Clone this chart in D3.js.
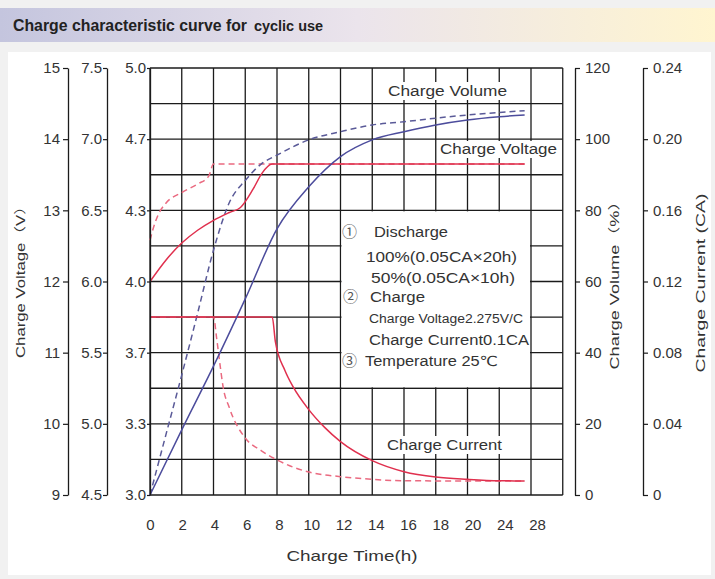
<!DOCTYPE html>
<html>
<head>
<meta charset="utf-8">
<script src="https://cdn.jsdelivr.net/npm/d3@7"></script>
<style>
body { margin: 0; background: #f1f1f1; }
svg text { font-family: "Liberation Sans", Arial, "DejaVu Sans", "Noto Sans CJK SC", sans-serif; fill: #333; }
</style>
</head>
<body>
<div id="chart"></div>
<script>
// charge time (h) of every grid column, the last one has no label
var gridHours = [0, 2, 4, 6, 8, 10, 12, 14, 16, 18, 20, 24, 28, 32];
var timeLabels = [0, 2, 4, 6, 8, 10, 12, 14, 16, 18, 20, 24, 28];
var voltTicks = [9, 10, 11, 12, 13, 14, 15];
var halfVoltTicks = [4.5, 5.0, 5.5, 6.0, 6.5, 7.0, 7.5];
var cellVoltTicks = [3, 10 / 3, 11 / 3, 4, 13 / 3, 14 / 3, 5];
var volumeTicks = [0, 20, 40, 60, 80, 100, 120];
var currentTicks = [0, 0.04, 0.08, 0.12, 0.16, 0.20, 0.24];

// [hours, value]  solid = after 100% discharge, dashed = after 50% discharge
var voltFull = [[0, 12.0], [1, 12.3], [2, 12.54], [3, 12.72], [4, 12.86], [5, 12.97], [5.7, 13.04],
                [6.5, 13.3], [7.05, 13.52], [7.7, 13.65], [27.2, 13.65]];
var voltHalf = [[0, 12.58], [0.25, 12.78], [0.5, 12.93], [1, 13.1], [2, 13.25], [3, 13.37],
                [3.7, 13.48], [4, 13.65], [27.2, 13.65]];
var volumeFull = [[0, 0], [2, 18.3], [4, 36.2], [6, 55.1], [8, 74.8], [10, 86.6], [12, 95.1],
                  [14, 99.8], [16, 102.1], [18, 104.0], [20, 105.4], [24, 106.3], [27.2, 106.8]];
var volumeHalf = [[0, 0], [1, 16.9], [2, 33.7], [3, 51.1], [4, 68.8], [5, 82.2], [6, 88.4], [7, 93.0],
                  [8, 95.5], [10, 99.8], [12, 102.1], [14, 104], [16, 104.9], [18, 105.9], [20, 106.8],
                  [24, 107.5], [27.2, 108]];
var currentFull = [[0, 0.1], [7.7, 0.1], [7.9, 0.086], [8.5, 0.07], [9, 0.061], [10, 0.048], [11, 0.038],
                   [12, 0.030], [14, 0.0193], [16, 0.0131], [18, 0.0101], [20, 0.0088], [24, 0.008], [27.2, 0.0079]];
var currentHalf = [[0, 0.1], [4, 0.1], [4.2, 0.088], [4.4, 0.074], [4.6, 0.061], [5, 0.049], [6, 0.032],
                   [7, 0.025], [8, 0.0197], [10, 0.0129], [12, 0.0103], [14, 0.0088], [16, 0.008],
                   [20, 0.0079], [27.2, 0.0079]];

var W = 715, H = 579;
var svg = d3.select("#chart").append("svg").attr("width", W).attr("height", H);

// title band
var grad = svg.append("defs").append("linearGradient").attr("id", "band");
grad.append("stop").attr("offset", "0%").attr("stop-color", "#c4c5de");
grad.append("stop").attr("offset", "50%").attr("stop-color", "#ebe4ec");
grad.append("stop").attr("offset", "100%").attr("stop-color", "#fff5d0");
svg.append("rect").attr("x", 0).attr("y", 8).attr("width", W).attr("height", 34).attr("fill", "url(#band)");
svg.append("rect").attr("x", 8).attr("y", 52).attr("width", 703).attr("height", 523).attr("fill", "#fff");

svg.append("text").attr("x", 13).attr("y", 31).text("Charge characteristic curve for")
    .attr("textLength", 234).attr("lengthAdjust", "spacingAndGlyphs")
    .style("font-size", "16px").style("font-weight", "bold").style("fill", "#222");
svg.append("text").attr("x", 254).attr("y", 31).text("cyclic use")
    .attr("textLength", 69).attr("lengthAdjust", "spacingAndGlyphs")
    .style("font-size", "14px").style("font-weight", "bold").style("fill", "#222");

// scales, time axis is not linear past 20h
var x = d3.scaleLinear().domain([0, 20, 32]).range([150, 467.5, 562.75]);
var yVol = d3.scaleLinear().domain([0, 120]).range([495, 68]);
var yV = d3.scaleLinear().domain([9, 15]).range([495, 68]);
var yHalf = d3.scaleLinear().domain([4.5, 7.5]).range([495, 68]);
var yCell = d3.scaleLinear().domain([3, 5]).range([495, 68]);
var yCur = d3.scaleLinear().domain([0, 0.24]).range([495, 68]);

// grid
var grid = svg.append("g").attr("stroke", "#1b1b1b").attr("stroke-width", 1.3);
grid.selectAll(".v").data(gridHours).join("line").attr("class", "v")
    .attr("x1", d => x(d)).attr("x2", d => x(d))
    .attr("y1", yVol(0)).attr("y2", yVol(120));
grid.selectAll(".h").data(d3.range(0, 121, 10)).join("line").attr("class", "h")
    .attr("x1", x(0)).attr("x2", x(32))
    .attr("y1", d => yVol(d)).attr("y2", d => yVol(d));

// note box covers the grid cells
svg.append("rect")
    .attr("x", x(12) + 1).attr("y", yVol(80) + 1)
    .attr("width", x(28) - x(12) - 2).attr("height", yVol(30) - yVol(80) - 2)
    .attr("fill", "#fff");

// white boxes behind the curve names
var nameBoxes = [[386, 82, 123, 18], [438, 141, 122, 17], [385, 436, 119, 18]];
svg.selectAll(".nb").data(nameBoxes).join("rect").attr("class", "nb")
    .attr("x", d => d[0]).attr("y", d => d[1]).attr("width", d => d[2]).attr("height", d => d[3])
    .attr("fill", "#fff");

// curves
function drawCurve(data, yScale, color, dashed) {
    var line = d3.line()
        .x(d => x(d[0]))
        .y(d => yScale(d[1]))
        .curve(d3.curveMonotoneX);
    svg.append("path")
        .datum(data)
        .attr("d", line)
        .attr("fill", "none")
        .attr("stroke", color)
        .attr("stroke-width", 1.5)
        .attr("stroke-dasharray", dashed ? "6,4" : null);
}
drawCurve(voltHalf, yV, "#ea6a80", true);
drawCurve(currentHalf, yCur, "#ea6a80", true);
drawCurve(volumeHalf, yVol, "#5a5a98", true);
drawCurve(voltFull, yV, "#e0304e", false);
drawCurve(currentFull, yCur, "#e0304e", false);
drawCurve(volumeFull, yVol, "#4c4c9c", false);

// axes
function styleAxis(g) {
    g.select(".domain").attr("stroke", "#1b1b1b").attr("stroke-width", 1.3);
    g.selectAll(".tick line").attr("stroke", "#1b1b1b").attr("stroke-width", 1.2);
    g.selectAll(".tick text").style("font-size", "15px").style("fill", "#333")
        .style("font-family", "'Liberation Sans', Arial, sans-serif");
}

svg.append("g").attr("transform", "translate(68,0)")
    .call(d3.axisLeft(yV).tickValues(voltTicks).tickSize(5).tickSizeOuter(0).tickPadding(3)
        .tickFormat(d3.format("d")))
    .call(styleAxis);
svg.append("g").attr("transform", "translate(107,0)")
    .call(d3.axisLeft(yHalf).tickValues(halfVoltTicks).tickSize(4).tickSizeOuter(0).tickPadding(1)
        .tickFormat(d3.format(".1f")))
    .call(styleAxis);
svg.append("g").attr("transform", "translate(150,0)")
    .call(d3.axisLeft(yCell).tickValues(cellVoltTicks).tickSize(3).tickSizeOuter(0).tickPadding(1)
        .tickFormat(d3.format(".1f")))
    .call(styleAxis);
svg.append("g").attr("transform", "translate(575,0)")
    .call(d3.axisRight(yVol).tickValues(volumeTicks).tickSize(5).tickSizeOuter(0).tickPadding(5)
        .tickFormat(d3.format("d")))
    .call(styleAxis);
svg.append("g").attr("transform", "translate(643,0)")
    .call(d3.axisRight(yCur).tickValues(currentTicks).tickSize(5).tickSizeOuter(0).tickPadding(5)
        .tickFormat(d => d === 0 ? "0" : d3.format(".2f")(d)))
    .call(styleAxis);

var xAxis = svg.append("g").attr("transform", "translate(0,495)")
    .call(d3.axisBottom(x).tickValues(timeLabels).tickSize(0).tickPadding(24).tickFormat(d3.format("d")))
    .call(styleAxis);
xAxis.select(".domain").remove();
xAxis.selectAll(".tick text").attr("x", (d, i) => i * 0.5);

// axis titles
function vTitle(px, py, label, len) {
    svg.append("text")
        .attr("transform", "translate(" + px + "," + py + ") rotate(-90)")
        .attr("text-anchor", "middle")
        .attr("textLength", len).attr("lengthAdjust", "spacingAndGlyphs")
        .style("font-size", "12px")
        .text(label);
}
vTitle(25, 278, "Charge Voltage（V）", 160);
vTitle(619, 281, "Charge Volume（%）", 177);
vTitle(705, 283, "Charge Current (CA)", 179);

svg.append("text").attr("x", 352).attr("y", 561).attr("text-anchor", "middle")
    .attr("textLength", 131).attr("lengthAdjust", "spacingAndGlyphs")
    .style("font-size", "15px").text("Charge Time(h)");

// curve names
var curveNames = [["Charge Volume", 388, 96, 119], ["Charge Voltage", 440, 154, 117], ["Charge Current", 387, 450, 115]];
svg.selectAll(".cn").data(curveNames).join("text").attr("class", "cn")
    .attr("x", d => d[1]).attr("y", d => d[2])
    .attr("textLength", d => d[3]).attr("lengthAdjust", "spacingAndGlyphs")
    .style("font-size", "14px")
    .text(d => d[0]);

// test condition notes
var notes = [
    ["Discharge", 374, 237, 74, 14],
    ["100%(0.05CA×20h)", 366, 262, 151, 14],
    ["50%(0.05CA×10h)", 371, 283, 144, 14],
    ["Charge", 370, 302, 55, 14],
    ["Charge Voltage2.275V/C", 369, 323, 154, 12],
    ["Charge Current0.1CA", 369, 345, 160, 14],
    ["Temperature 25℃", 365, 366, 133, 14]
];
svg.selectAll(".nt").data(notes).join("text").attr("class", "nt")
    .attr("x", d => d[1]).attr("y", d => d[2])
    .attr("textLength", d => d[3]).attr("lengthAdjust", "spacingAndGlyphs")
    .style("font-size", d => d[4] + "px")
    .text(d => d[0]);

var marks = [["①", 342, 237], ["②", 343, 302], ["③", 342, 366]];
svg.selectAll(".mk").data(marks).join("text").attr("class", "mk")
    .attr("x", d => d[1]).attr("y", d => d[2])
    .style("font-family", "'Noto Sans CJK SC', sans-serif")
    .style("font-size", "15px").style("fill", "#555")
    .text(d => d[0]);
</script>
</body>
</html>
